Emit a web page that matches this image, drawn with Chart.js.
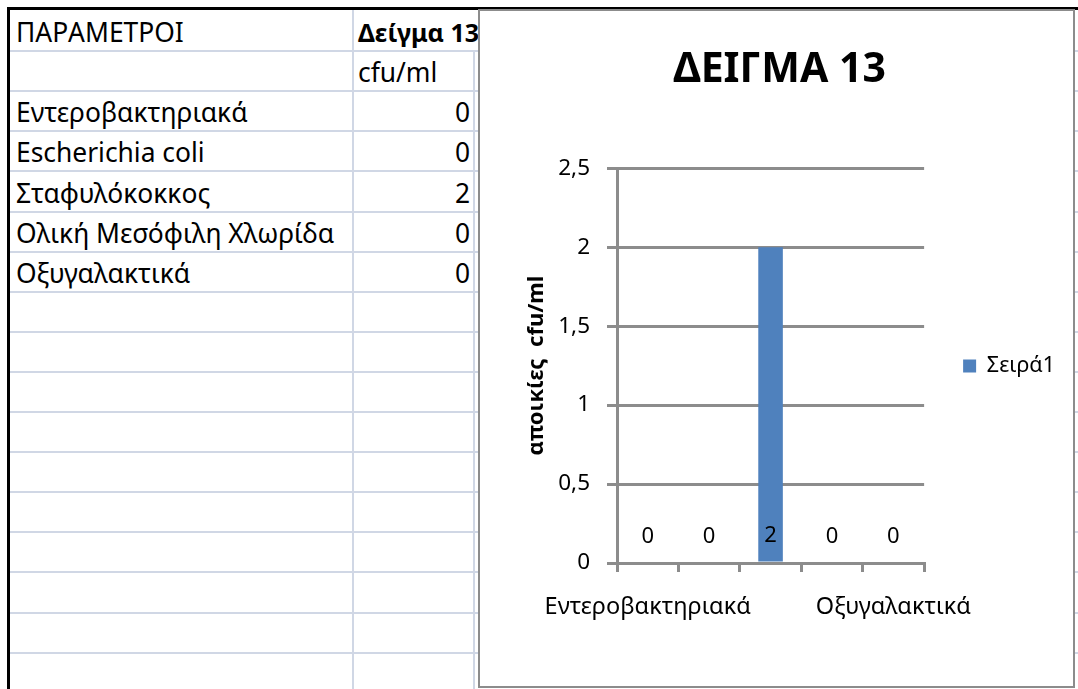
<!DOCTYPE html>
<html lang="el">
<head>
<meta charset="utf-8">
<title>ΔΕΙΓΜΑ 13</title>
<script src="https://cdn.jsdelivr.net/npm/chart.js@4.4.1/dist/chart.umd.min.js"></script>
<style>
  html, body { margin: 0; padding: 0; background: #fff; }
  body { width: 1078px; height: 689px; position: relative; overflow: hidden; font-family: "Noto Sans", sans-serif; color: #000; }
  .hline { position: absolute; height: 2px; background: #d0d7e5; }
  .vline { position: absolute; width: 2px; background: #d0d7e5; }
  .cell { position: absolute; white-space: nowrap; font-size: 26.4px; line-height: 26.4px; }
  .num { text-align: right; }
  .bold { font-weight: bold; font-size: 25px; line-height: 25px; }
  #frameTop { position: absolute; left: 7px; top: 7px; width: 1071px; height: 3px; background: #000; }
  #frameLeft { position: absolute; left: 7px; top: 7px; width: 3px; height: 682px; background: #000; }
  #chartBox { position: absolute; left: 478px; top: 9px; width: 597px; height: 679px; box-sizing: border-box; border: 2px solid #8c8c8c; background: #fff; z-index: 5; }
  #chartBox canvas { display: block; }
</style>
</head>
<body>
<div id="sheet"></div>
<div id="frameTop"></div>
<div id="frameLeft"></div>
<div id="chartBox"><canvas id="sampleChart" width="593" height="675"></canvas></div>

<script>
  // data read from the sheet / chart
  const headerLeft = "ΠΑΡΑΜΕΤΡΟΙ";
  const headerRight = "Δείγμα 13";
  const unitText = "cfu/ml";
  const categories = ["Εντεροβακτηριακά", "Escherichia coli", "Σταφυλόκοκκος", "Ολική Μεσόφιλη Χλωρίδα", "Οξυγαλακτικά"];
  const counts = [0, 0, 2, 0, 0];
  const yTicks = [0, 0.5, 1, 1.5, 2, 2.5];
  const chartTitle = "ΔΕΙΓΜΑ 13";
  const seriesName = "Σειρά1";
  const yAxisTitle = "αποικίες  cfu/ml";
  const labelEvery = 4; // excel only showed every 4th category label

  // --- spreadsheet part ---
  const sheet = document.getElementById('sheet');
  const rowH = 40.1;
  const rowLine = k => 11 + rowH * k;
  const fontSize = 26.4;

  function add(cls, css, text) {
    const d = document.createElement('div');
    d.className = cls;
    Object.assign(d.style, css);
    if (text !== undefined) d.textContent = text;
    sheet.appendChild(d);
    return d;
  }

  for (let k = 1; k <= 17; k++) {
    add('hline', { left: '10px', top: (rowLine(k) - 1) + 'px', width: '1068px' });
  }
  add('vline', { left: '352px', top: '10px', height: '679px' });
  add('vline', { left: '473px', top: rowLine(1) + 'px', height: '640px' });

  function textTop(row, size) {
    const baseline = rowLine(row + 1) - 8.5;
    return (baseline - 0.888 * (size || fontSize)) + 'px';
  }

  add('cell', { left: '16px', top: textTop(0) }, headerLeft);
  add('cell bold', { left: '358px', top: textTop(0, 25) }, headerRight);
  add('cell', { left: '358px', top: textTop(1) }, unitText);
  categories.forEach((name, i) => {
    add('cell', { left: '16px', top: textTop(i + 2) }, name);
    add('cell num', { left: '356px', width: '114px', top: textTop(i + 2) }, String(counts[i]));
  });

  // --- chart part ---
  const gray = '#8c8c8c';
  const barBlue = '#4f81bd';
  Chart.defaults.font.family = '"Noto Sans", sans-serif';
  Chart.defaults.color = '#000';

  // data labels sitting on the bar base, like excel "inside base"
  const valueLabels = {
    id: 'valueLabels',
    afterDatasetsDraw(chart) {
      const ctx = chart.ctx;
      ctx.save();
      ctx.font = '22px "Noto Sans"';
      ctx.fillStyle = '#000';
      ctx.textAlign = 'center';
      ctx.textBaseline = 'middle';
      chart.getDatasetMeta(0).data.forEach((bar, i) => {
        ctx.fillText(String(counts[i]), bar.x, bar.base - 26);
      });
      ctx.restore();
    }
  };

  new Chart(document.getElementById('sampleChart'), {
    type: 'bar',
    data: {
      labels: categories,
      datasets: [{
        label: seriesName,
        data: counts,
        backgroundColor: barBlue,
        borderWidth: 0,
        categoryPercentage: 0.4,
        barPercentage: 1
      }]
    },
    options: {
      responsive: false,
      animation: false,
      events: [],
      layout: { padding: { top: 35, right: 8, bottom: 0, left: 14 } },
      plugins: {
        title: {
          display: true,
          text: chartTitle,
          font: { size: 41, weight: 'bold' },
          color: '#000',
          padding: { top: 0, bottom: 73 }
        },
        legend: {
          position: 'right',
          labels: {
            boxWidth: 13,
            boxHeight: 13,
            padding: 39,
            font: { size: 21.5 },
            color: '#000'
          }
        },
        tooltip: { enabled: false }
      },
      scales: {
        x: {
          grid: { drawOnChartArea: false, drawTicks: true, tickLength: 9, color: gray, lineWidth: 3, offset: true },
          border: { display: true, color: gray, width: 3 },
          ticks: {
            autoSkip: false,
            maxRotation: 0,
            minRotation: 0,
            padding: 21,
            font: { size: 23.5 },
            color: '#000',
            callback: (v, i) => (i % labelEvery === 0 ? categories[i] : '')
          },
          afterFit: s => { s.height = 123; }
        },
        y: {
          min: yTicks[0],
          max: yTicks[yTicks.length - 1],
          grid: { color: gray, lineWidth: 3, drawTicks: true, tickLength: 10 },
          border: { display: true, color: gray, width: 3 },
          ticks: {
            stepSize: yTicks[1] - yTicks[0],
            padding: 17,
            font: { size: 22.5 },
            color: '#000',
            callback: v => String(v).replace('.', ',')
          },
          title: {
            display: true,
            text: yAxisTitle,
            font: { size: 22, weight: 'bold' },
            color: '#000',
            padding: { top: 30, bottom: 0 }
          },
          afterFit: s => { s.width = 123; }
        }
      }
    },
    plugins: [valueLabels]
  });
</script>
</body>
</html>
